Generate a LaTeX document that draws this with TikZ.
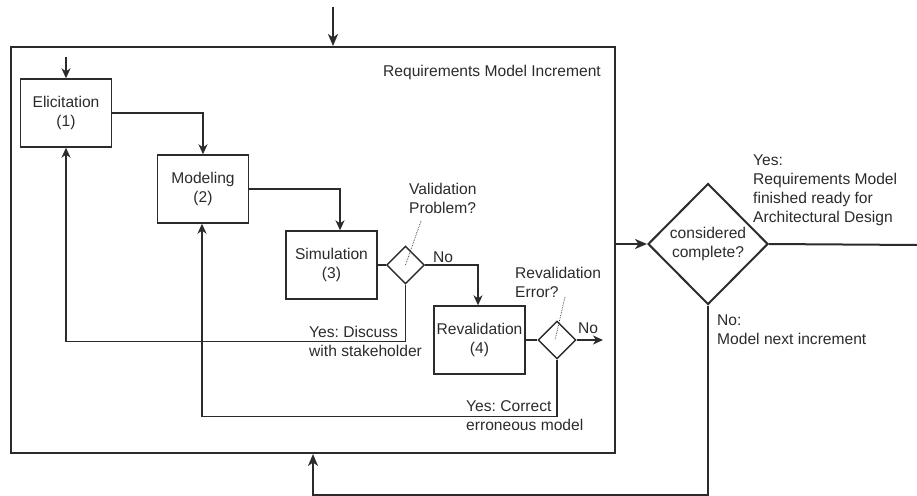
\documentclass[tikz,border=0pt]{standalone}
\usepackage{fontspec}
\setmainfont{Liberation Sans}
\usetikzlibrary{arrows.meta,shapes.geometric,calc}
\definecolor{ink}{gray}{0.17}
\frenchspacing
\begin{document}
\begin{tikzpicture}[x=1pt,y=-1pt,
  font=\fontsize{15.6}{19}\selectfont,
  every node/.style={text=ink},
  thin line/.style={draw=ink,line width=1.4pt},
  thick line/.style={draw=ink,line width=2pt},
  arr/.style={thin line,-{Stealth[length=10pt,width=9pt,inset=3pt]}},
  bigarr/.style={thick line,-{Stealth[length=12pt,width=10pt,inset=3.5pt]}},
  stepbox/.style={thin line,rectangle,inner sep=0pt,minimum width=91pt,minimum height=68pt,align=center},
  smalldec/.style={thin line,diamond,inner sep=0pt,minimum width=38pt,minimum height=38pt},
  lbl/.style={inner sep=0pt,align=left},
  note/.style={draw=ink,line width=0.7pt,densely dotted}]
\useasboundingbox (0,0) rectangle (917,495);

% increment frame
\node[thick line,rectangle,inner sep=0pt,minimum width=604pt,minimum height=406pt,anchor=north west] (inc) at (10,46) {};
\node[lbl,anchor=east] (title) at (601,72) {Requirements Model Increment};

% activities
\node[stepbox] (elic)  at (66,113)    {Elicitation\\(1)};
\node[stepbox] (model) at (203,189)   {Modeling\\(2)};
\node[stepbox] (sim)   at (331.5,265) {Simulation\\(3)};
\node[stepbox] (reval) at (479.5,340) {Revalidation\\(4)};

% decisions inside the increment
\node[smalldec] (vd) at (405.5,265) {};
\node[smalldec] (rd) at (557,340) {};

% outer decision
\node[thick line,diamond,inner sep=0pt,minimum width=120pt,minimum height=121pt,align=center] (cc) at (708,244) {considered\\complete?};

% entry points and free ends
\coordinate (top) at (333,7);
\coordinate (elin) at (66,57);
\coordinate (rdout) at (603,340);
\coordinate (done) at (917,245);

% main flow
\draw[bigarr] (top) -- (top |- inc.north);
\draw[arr] (elin) -- (elic.north);
\draw[arr] (elic.east) -| (model.north);
\draw[arr] (model.east) -| ([xshift=8.5pt]sim.north);
\draw[thin line] (sim.east) -- (vd.west);
\draw[arr] (vd.east) -| ([xshift=-1.5pt]reval.north);
\draw[thin line] (reval.east) -- (rd.west);
\draw[arr] (rd.east) -- (rdout);

% feedback loops
\draw[arr] (vd.south) -- ++(0,57) -| (elic.south);
\draw[arr] (rd.south) -- ++(0,57) -| ([xshift=-1pt]model.south);

% leaving the increment
\draw[bigarr] (inc.east |- cc.west) -- (cc.west);
\draw[thick line] (cc.east) -- (done);
\draw[bigarr] (cc.south) -- ++(0,189) -| (inc.south);

% labels
\node[lbl] (no1) at (443,257) {No};
\node[lbl] (no2) at (588,328) {No};
\node[lbl,anchor=west] (vp) at (409,198.5) {Validation\\Problem?};
\node[lbl,anchor=west] (re) at (515,282.5) {Revalidation\\Error?};
\node[lbl,anchor=west] (yd) at (309,341.5) {Yes: Discuss\\with stakeholder};
\node[lbl,anchor=west] (yc) at (466,415.5) {Yes: Correct\\erroneous model};
\node[lbl,anchor=west] (yes) at (753,190.5) {Yes:\\Requirements Model\\finished ready for\\Architectural Design};
\node[lbl,anchor=west] (no3) at (717,329.5) {No:\\Model next increment};

% callout lines
\draw[note] (421,221) -- (vd.center);
\draw[note] (565,297) -- ([xshift=-2pt]rd.center);
\end{tikzpicture}
\end{document}
